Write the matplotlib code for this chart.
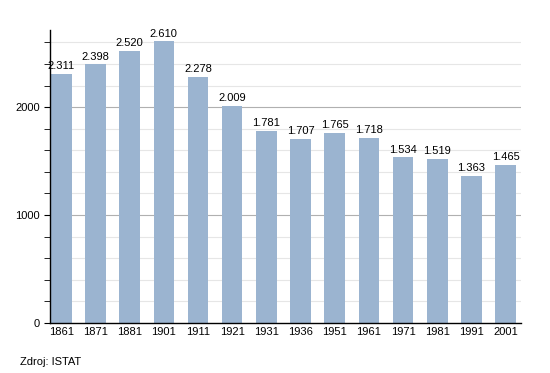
import matplotlib.pyplot as plt
import numpy as np

plt.rcParams['font.family'] = ['Liberation Sans', 'DejaVu Sans']

# dati
years = ['1861', '1871', '1881', '1901', '1911', '1921', '1931', '1936',
         '1951', '1961', '1971', '1981', '1991', '2001']
population = [2311, 2398, 2520, 2610, 2278, 2009, 1781, 1707,
              1765, 1718, 1534, 1519, 1363, 1465]

fig = plt.figure(figsize=(5.5, 3.73), dpi=100)
ax = fig.add_axes([50 / 550, 1 - 323 / 373, 471 / 550, 293 / 373])

x = np.arange(len(years))

# griglia
for v in range(200, 2800, 200):
    if v % 1000 == 0:
        ax.axhline(v, color='#b0b0b0', lw=0.8, zorder=0)
    else:
        ax.axhline(v, color='#e6e6e6', lw=0.8, zorder=0)

ax.bar(x, population, width=0.6, color='#9bb4d0', zorder=2)

for xi, v in zip(x, population):
    label = f"{v:,}".replace(',', '.')
    ax.text(xi, v + 25, label, ha='center', va='bottom', fontsize=8)

ax.set_xlim(-0.33, 13.45)
ax.set_ylim(0, 2715)
ax.set_xticks(x)
ax.set_xticklabels(years, fontsize=8)
ax.set_yticks([0, 1000, 2000])
ax.set_yticklabels(['0', '1000', '2000'], fontsize=8)
ax.set_yticks(np.arange(0, 2800, 200), minor=True)
ax.tick_params(axis='x', length=0, pad=3)
ax.tick_params(axis='y', which='both', length=4, direction='out')

for s in ['top', 'right']:
    ax.spines[s].set_visible(False)
ax.spines['left'].set_linewidth(1)
ax.spines['bottom'].set_linewidth(1)

fig.text(20 / 550, 1 - 362 / 373, 'Zdroj: ISTAT', fontsize=8, va='center')

fig.savefig('out.png', dpi=100)
